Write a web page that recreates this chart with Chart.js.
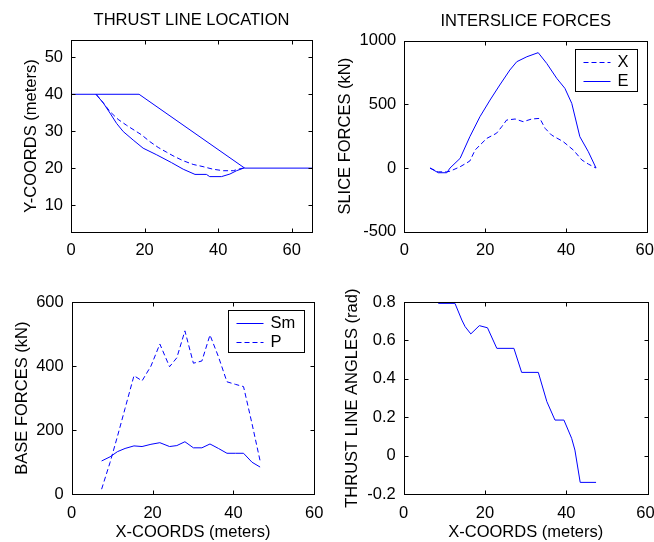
<!DOCTYPE html>
<html>
<head>
<meta charset="utf-8">
<script src="https://cdn.jsdelivr.net/npm/chart.js@4.4.0/dist/chart.umd.min.js"></script>
<style>
  body { margin: 0; background: #fff; }
  #fig { position: relative; width: 654px; height: 542px; overflow: hidden; }
  canvas { position: absolute; }
</style>
</head>
<body>
<div id="fig">
  <canvas id="c1" width="327" height="271" style="left:0;top:0"></canvas>
  <canvas id="c2" width="327" height="271" style="left:327px;top:0"></canvas>
  <canvas id="c3" width="327" height="271" style="left:0;top:271px"></canvas>
  <canvas id="c4" width="327" height="271" style="left:327px;top:271px"></canvas>
</div>
<script>
// --- thrust line location ---
const groundX = [0, 18.5, 47.2, 65.5];
const groundY = [40, 40, 20, 20];
const slipX = [6.8, 8.8, 10.6, 12.4, 14.2, 16.9, 19.6, 23.3, 27.3, 30.5, 33.7, 36.8, 37.7, 40.9, 43.2, 45.0, 47.2];
const slipY = [40, 37.6, 34.9, 32.1, 29.9, 27.6, 25.4, 23.6, 21.5, 19.7, 18.3, 18.3, 17.7, 17.7, 18.4, 19.3, 20.1];
const thrustX = [6.8, 8.6, 10.6, 12.8, 15.1, 19.2, 21.4, 23.7, 26.0, 28.0, 30.5, 33.2, 35.9, 38.6, 41.4, 44.1, 45.4, 47.2];
const thrustY = [40, 37.9, 35.3, 33.2, 31.6, 29.0, 27.2, 25.6, 24.3, 23.2, 22.0, 21.0, 20.4, 19.7, 19.3, 19.3, 19.7, 20.1];

// --- interslice forces ---
const eX = [6.35, 8.4, 10.5, 11.3, 13.8, 16.2, 18.7, 21.2, 23.6, 26.1, 27.8, 30.3, 33.1, 35.2, 37.7, 39.7, 41.4, 43.4, 45.5, 47.4];
const eVals = [0, -37, -37, 0, 76, 246, 403, 534, 652, 770, 835, 874, 906, 822, 704, 626, 508, 246, 128, 0];
const xX = [6.35, 8.4, 10.5, 11.3, 13.8, 16.2, 17.5, 18.7, 20.4, 22.8, 24.1, 25.3, 27.4, 29.4, 31.5, 33.5, 34.8, 36.4, 39.3, 41.8, 43.9, 45.5, 47.4];
const xVals = [0, -30, -30, -25, 10, 55, 141, 180, 233, 273, 325, 377, 385, 364, 385, 390, 312, 259, 207, 141, 63, 31, 0];

// --- base forces ---
const baseX = [7.4, 9.5, 11.3, 13.2, 15.4, 17.4, 19.6, 21.8, 24.2, 26.0, 28.0, 30.1, 32.2, 34.2, 36.3, 38.4, 40.5, 42.5, 44.6, 46.6];
const smVals = [104, 117, 133, 143, 151, 149, 156, 161, 149, 152, 164, 145, 145, 157, 143, 128, 128, 128, 100, 85];
const pVals = [16, 100, 180, 268, 370, 354, 400, 469, 398, 426, 510, 409, 416, 497, 429, 351, 343, 336, 220, 104];

// --- thrust line angles ---
const angX = [8.5, 12.6, 14.3, 15.1, 16.5, 18.6, 20.6, 22.9, 27.1, 29.0, 33.1, 35.2, 37.2, 39.4, 41.3, 42.1, 43.4, 47.3];
const angVals = [0.793, 0.793, 0.706, 0.672, 0.634, 0.677, 0.666, 0.559, 0.559, 0.434, 0.434, 0.282, 0.186, 0.186, 0.091, 0.030, -0.138, -0.138];

// tick labels
const xTicks = [0, 20, 40, 60];
const locYTicks = [10, 20, 30, 40, 50];
const sliceYTicks = [-500, 0, 500, 1000];
const baseYTicks = [0, 200, 400, 600];
const angYTicks = [-0.2, 0, 0.2, 0.4, 0.6, 0.8];

const W = 327, H = 271;
const FONT = { family: '"Liberation Sans", Arial, sans-serif', size: 16.5, weight: 'normal' };
const BLUE = '#0000ff';

function pts(xs, ys) { return xs.map((v, i) => ({ x: v, y: ys[i] })); }

function line(label, xs, ys, dashed) {
  return {
    label: label, data: pts(xs, ys), borderColor: BLUE, borderWidth: 1,
    borderDash: dashed ? [5, 3] : [], pointRadius: 0, tension: 0, fill: false
  };
}

// MATLAB-like box, inward ticks and boxed legend
const frame = {
  id: 'frame',
  afterDatasetsDraw(chart, args, opts) {
    const { ctx, chartArea: a, scales: { x, y } } = chart;
    ctx.save();
    ctx.strokeStyle = '#000';
    ctx.lineWidth = 1;
    const L = Math.round(a.left) + 0.5, R = Math.round(a.right) + 0.5;
    const T = Math.round(a.top) + 0.5, B = Math.round(a.bottom) + 0.5;
    ctx.strokeRect(L, T, R - L, B - T);
    const tl = 4;
    ctx.beginPath();
    x.ticks.forEach(t => {
      const p = Math.round(x.getPixelForValue(t.value)) + 0.5;
      ctx.moveTo(p, B); ctx.lineTo(p, B - tl);
      ctx.moveTo(p, T); ctx.lineTo(p, T + tl);
    });
    y.ticks.forEach(t => {
      const p = Math.round(y.getPixelForValue(t.value)) + 0.5;
      ctx.moveTo(L, p); ctx.lineTo(L + tl, p);
      ctx.moveTo(R, p); ctx.lineTo(R - tl, p);
    });
    ctx.stroke();

    if (opts.legend) {
      const sets = chart.data.datasets;
      ctx.font = FONT.size + 'px ' + FONT.family;
      const tw = Math.max(...sets.map(d => ctx.measureText(d.label).width));
      const w = Math.round(42 + tw + 9), h = 42;
      const lx = R - 10 - w, ly = T + 8;
      ctx.fillStyle = '#fff';
      ctx.fillRect(lx, ly, w, h);
      ctx.strokeRect(lx, ly, w, h);
      sets.forEach((d, i) => {
        const ry = Math.round(ly + 12 + i * 19) + 0.5;
        ctx.strokeStyle = d.borderColor;
        ctx.setLineDash(d.borderDash);
        ctx.beginPath();
        ctx.moveTo(lx + 8, ry); ctx.lineTo(lx + 35, ry);
        ctx.stroke();
        ctx.setLineDash([]);
        ctx.fillStyle = '#000';
        ctx.textBaseline = 'middle';
        ctx.fillText(d.label, lx + 42, ry);
      });
    }
    ctx.restore();
  }
};

function panel(id, o) {
  const b = o.box;
  const padBottom = o.padBottom;
  // right-hand panels: nudge the last x label inwards so it stays on the page
  const xLabel = (v, i, arr) => (o.rightEdge && i === arr.length - 1) ? v + ' ' : String(v);
  return new Chart(document.getElementById(id), {
    type: 'line',
    data: { datasets: o.datasets },
    plugins: [frame],
    options: {
      responsive: false, animation: false, devicePixelRatio: 1,
      layout: { padding: { left: o.padLeft, right: W - b.r, top: o.title ? 0 : b.t, bottom: padBottom } },
      plugins: {
        legend: { display: false },
        tooltip: { enabled: false },
        title: o.title ? {
          display: true, text: o.title, color: '#000', font: FONT, fullSize: false,
          padding: { top: o.titleTop, bottom: b.t - o.titleTop - FONT.size * 1.2 }
        } : { display: false },
        frame: { legend: !!o.legend }
      },
      scales: {
        x: {
          type: 'linear', min: o.xMin, max: o.xMax,
          grid: { display: false, drawTicks: false }, border: { display: false },
          ticks: { color: '#000', font: FONT, padding: 9, maxRotation: 0, callback: xLabel },
          afterBuildTicks: s => { s.ticks = xTicks.map(v => ({ value: v })); },
          afterFit: s => { s.height = H - padBottom - b.b; s.paddingLeft = 0; s.paddingRight = 0; },
          title: o.xTitle ? { display: true, text: o.xTitle, color: '#000', font: FONT, padding: 0 } : { display: false }
        },
        y: {
          type: 'linear', min: o.yMin, max: o.yMax,
          grid: { display: false, drawTicks: false }, border: { display: false },
          ticks: { color: '#000', font: FONT, padding: 8, callback: v => String(v) },
          afterBuildTicks: s => { s.ticks = o.yTicks.map(v => ({ value: v })); },
          afterFit: s => { s.width = b.l - o.padLeft; },
          title: { display: true, text: o.yTitle, color: '#000', font: FONT, padding: 0 }
        }
      }
    }
  });
}

panel('c1', {
  box: { l: 71, t: 40, r: 312, b: 232 }, padLeft: 22, padBottom: 4,
  title: 'THRUST LINE LOCATION', titleTop: 10.5,
  xMin: 0, xMax: 65.5, yMin: 2.7, yMax: 54.7, yTicks: locYTicks,
  yTitle: 'Y-COORDS (meters)',
  datasets: [line('ground', groundX, groundY, false), line('slip', slipX, slipY, false), line('thrust', thrustX, thrustY, true)]
});

panel('c2', {
  box: { l: 77.3, t: 40.7, r: 320, b: 231.7 }, padLeft: 9, padBottom: 4, rightEdge: true,
  title: 'INTERSLICE FORCES', titleTop: 12,
  xMin: 0, xMax: 60, yMin: -500, yMax: 1000, yTicks: sliceYTicks,
  yTitle: 'SLICE FORCES (kN)', legend: true,
  datasets: [line('X', xX, xVals, true), line('E', eX, eVals, false)]
});

panel('c3', {
  box: { l: 71.7, t: 31, r: 314.3, b: 223.3 }, padLeft: 12.5, padBottom: 0,
  xMin: 0, xMax: 60, yMin: 0, yMax: 600, yTicks: baseYTicks,
  yTitle: 'BASE FORCES (kN)', xTitle: 'X-COORDS (meters)', legend: true,
  datasets: [line('Sm', baseX, smVals, false), line('P', baseX, pVals, true)]
});

panel('c4', {
  box: { l: 76.7, t: 31, r: 320.7, b: 223.3 }, padLeft: 16, padBottom: 0, rightEdge: true,
  xMin: 0, xMax: 60, yMin: -0.2, yMax: 0.8, yTicks: angYTicks,
  yTitle: 'THRUST LINE ANGLES (rad)', xTitle: 'X-COORDS (meters)',
  datasets: [line('angle', angX, angVals, false)]
});
</script>
</body>
</html>
